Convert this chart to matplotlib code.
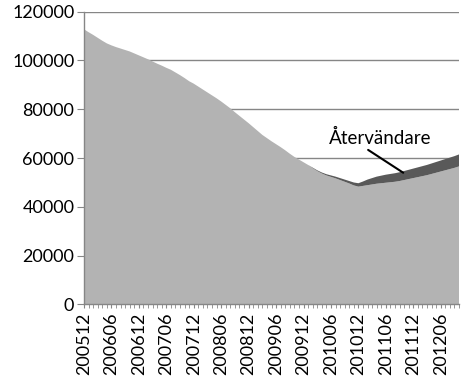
import matplotlib
matplotlib.use("Agg")
import matplotlib.pyplot as plt
import numpy as np

# Månader 200512 .. 201210
start_year, start_month, n_months = 2005, 12, 83
months = []
y, m = start_year, start_month
for _ in range(n_months):
    months.append(f"{y}{m:02d}")
    m += 1
    if m > 12:
        m = 1
        y += 1

# Övriga (ljusgrå yta)
ovriga = [
    112800, 111600, 110500, 109300, 108100, 107000, 106200, 105500, 104900, 104300,
    103700, 102900, 102100, 101300, 100500, 99600, 98700, 97900, 97000, 96200,
    95100, 94000, 92800, 91500, 90500, 89300, 88100, 86900, 85700, 84500,
    83200, 81800, 80400, 78800, 77300, 75800, 74300, 72700, 71100, 69500,
    68200, 66900, 65700, 64500, 63200, 61800, 60500, 59400, 58300, 57200,
    55900, 54700, 53700, 52900, 52300, 51700, 51000, 50300, 49600, 48800,
    48300, 48600, 48900, 49200, 49500, 49700, 49900, 50100, 50300, 50600,
    51000, 51400, 51800, 52200, 52600, 53000, 53500, 54000, 54500, 55000,
    55500, 56000, 56600,
]

# Återvändare (mörkgrå yta)
atervandare = [0] * 50 + [
    200, 300, 400, 500, 600, 700, 800, 900, 1000, 1200,
    1400, 1800, 2300, 2600, 2900, 3100, 3300, 3400, 3500, 3600,
    3700, 3800, 3900, 4000, 4100, 4200, 4300, 4400, 4500, 4600,
    4700, 4800, 4900,
]

y_ticks = [0, 20000, 40000, 60000, 80000, 100000, 120000]

FONT = "Lato"
GRID = "#868686"

fig = plt.figure(figsize=(4.63, 3.87), dpi=100)
ax = fig.add_axes([0.1814, 0.2132, 0.81, 0.7566])

x = np.arange(len(months))
ax.stackplot(x, ovriga, atervandare, colors=["#b3b3b3", "#595959"],
             linewidth=0, zorder=2)

ax.set_xlim(0, len(months) - 1)
ax.set_ylim(0, 120000)

ax.set_axisbelow(True)
ax.set_yticks(y_ticks)
ax.set_yticklabels([str(v) for v in y_ticks], fontsize=13, family=FONT)
ax.yaxis.grid(True, color=GRID, linewidth=1)

ax.set_xticks(x[::6])
ax.set_xticklabels(months[::6], rotation=90, fontsize=13, family=FONT)
ax.set_xticks(x, minor=True)
ax.tick_params(axis="x", which="both", length=3, color=GRID, pad=3)
ax.tick_params(axis="y", length=5, color=GRID, pad=2)

for side in ["top", "right"]:
    ax.spines[side].set_visible(False)
for side in ["left", "bottom"]:
    ax.spines[side].set_color(GRID)
    ax.spines[side].set_linewidth(1)
    ax.spines[side].set_zorder(3)

ax.annotate("Återvändare", xy=(69.8, 54000), xytext=(64.7, 68200),
            fontsize=13.5, family=FONT, ha="center", va="center", zorder=4,
            arrowprops=dict(arrowstyle="-", color="black", lw=1.5,
                            shrinkA=0, shrinkB=0, relpos=(0.33, 0.05)))

fig.savefig("out.png", dpi=100)
